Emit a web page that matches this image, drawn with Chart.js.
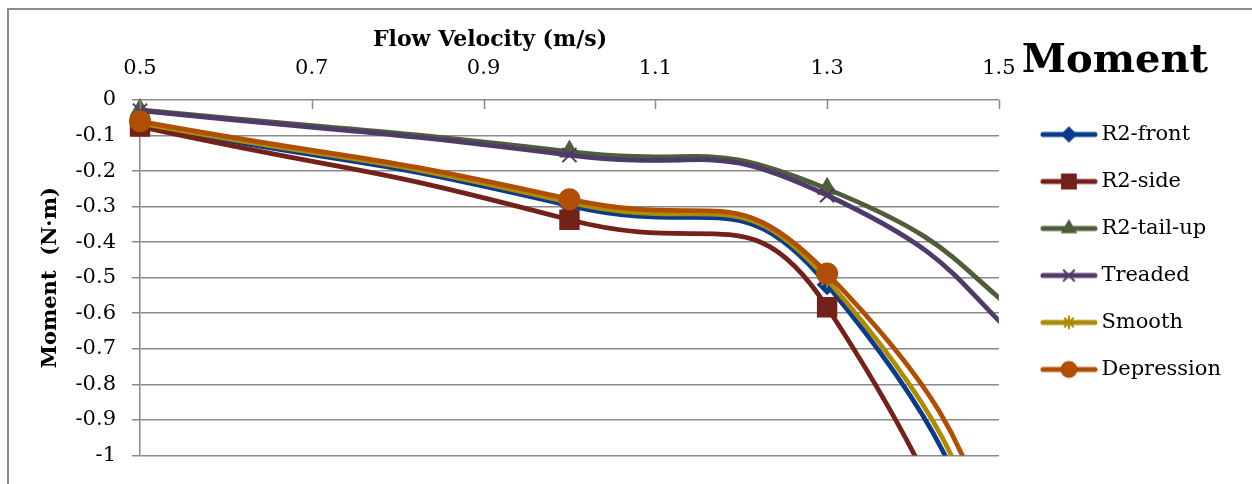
<!DOCTYPE html>
<html>
<head>
<meta charset="utf-8">
<script src="https://cdn.jsdelivr.net/npm/chart.js"></script>
<style>
html, body { margin: 0; padding: 0; background: #fff; }
</style>
</head>
<body>
<canvas id="chart" width="1252" height="484"></canvas>
<script>
// data (last point lies past the plot and is clipped)
var velocity = [0.5, 1.0, 1.3, 1.6];
var r2Front = [-0.07, -0.297, -0.52, -2.05];
var r2Side = [-0.075, -0.337, -0.583, -2.56];
var r2TailUp = [-0.028, -0.145, -0.25, -0.74];
var treaded = [-0.03, -0.155, -0.268, -0.835];
var smooth = [-0.065, -0.288, -0.505, -1.96];
var depression = [-0.06, -0.279, -0.488, -1.78];

var xTicks = [0.5, 0.7, 0.9, 1.1, 1.3, 1.5];
var yTicks = [0, -0.1, -0.2, -0.3, -0.4, -0.5, -0.6, -0.7, -0.8, -0.9, -1];

var serif = 'DejaVu Serif';
var gridColor = '#8a8a8a';

// legend swatch: a short line with the marker on it
function makeSwatch(color, style, radius) {
	var c = document.createElement('canvas');
	c.width = 80;
	c.height = 26;
	var g = c.getContext('2d');
	g.strokeStyle = color;
	g.fillStyle = color;
	g.lineWidth = 5;
	g.lineCap = 'round';
	g.beginPath();
	g.moveTo(25, 13);
	g.lineTo(77, 13);
	g.stroke();
	g.lineWidth = 2;
	Chart.helpers.drawPoint(g, { pointStyle: style, radius: radius, rotation: 0, borderWidth: 2 }, 51, 13);
	return c;
}

function series(label, values, color, style, radius, order) {
	return {
		label: label,
		data: velocity.map(function (v, i) { return { x: v, y: values[i] }; }),
		borderColor: color,
		backgroundColor: color,
		borderWidth: 4.8,
		pointStyle: style,
		pointRadius: radius,
		pointBorderWidth: 2,
		pointBackgroundColor: color,
		pointBorderColor: color,
		tension: 0.55,
		order: order,
		clip: { left: 14, top: 14, right: 0, bottom: 0 },
		swatch: makeSwatch(color, style, radius * 0.75)
	};
}

var datasets = [
	series('R2-front', r2Front, '#0a3c8c', 'rectRot', 9, 5),
	series('R2-side', r2Side, '#74211a', 'rect', 13, 4),
	series('R2-tail-up', r2TailUp, '#4f5d3b', 'triangle', 10, 3),
	series('Treaded', treaded, '#4e3b6a', 'crossRot', 10, 2),
	series('Smooth', smooth, '#ae8b00', 'star', 8, 1),
	series('Depression', depression, '#b04f04', 'circle', 10, 0)
];

// frame, x tick marks and x title
var decor = {
	id: 'decor',
	beforeDraw: function (chart) {
		var ctx = chart.ctx;
		ctx.save();
		ctx.strokeStyle = '#8c8c8c';
		ctx.lineWidth = 2;
		ctx.strokeRect(8, 9, 1400, 600);
		ctx.restore();
	},
	afterDraw: function (chart) {
		var ctx = chart.ctx;
		var xs = chart.scales.x;
		var top = chart.chartArea.top;
		ctx.save();
		ctx.strokeStyle = gridColor;
		ctx.lineWidth = 1.5;
		xTicks.forEach(function (v) {
			var px = Math.round(xs.getPixelForValue(v)) + 0.5;
			ctx.beginPath();
			ctx.moveTo(px, top);
			ctx.lineTo(px, top + 9);
			ctx.stroke();
		});
		ctx.fillStyle = '#000';
		ctx.font = 'bold 22px "' + serif + '"';
		ctx.textAlign = 'center';
		ctx.textBaseline = 'middle';
		ctx.fillText('Flow Velocity (m/s)', 490, 40);
		ctx.restore();
	}
};

var ctx = document.getElementById('chart').getContext('2d');
var momentChart = new Chart(ctx, {
	type: 'line',
	data: { datasets: datasets },
	options: {
		responsive: false,
		animation: false,
		devicePixelRatio: 1,
		layout: { padding: { left: 8, top: 10, right: 21, bottom: 19 } },
		elements: { line: { capBezierPoints: false } },
		scales: {
			x: {
				type: 'linear',
				position: 'top',
				min: 0.5,
				max: 1.5,
				afterBuildTicks: function (s) { s.ticks = xTicks.map(function (v) { return { value: v }; }); },
				afterFit: function (s) { s.height = 90; },
				grid: { drawOnChartArea: false, drawTicks: false },
				border: { display: false },
				ticks: {
					padding: 19,
					color: '#000',
					font: { family: serif, size: 21 },
					callback: function (v) { return v.toFixed(1); }
				}
			},
			y: {
				min: -1,
				max: 0,
				afterBuildTicks: function (s) { s.ticks = yTicks.map(function (v) { return { value: v }; }); },
				afterFit: function (s) { s.width = 132; },
				grid: { color: gridColor, lineWidth: 1.5, tickLength: 8 },
				border: { color: gridColor, width: 1.5 },
				ticks: {
					padding: 16,
					color: '#000',
					font: { family: serif, size: 21 },
					callback: function (v) { return String(Math.round(v * 10) / 10); }
				},
				title: {
					display: true,
					text: 'Moment  (N·m)',
					color: '#000',
					font: { family: serif, size: 21, weight: 'bold' },
					padding: { top: 30, bottom: 0 }
				}
			}
		},
		plugins: {
			tooltip: { enabled: false },
			legend: {
				position: 'right',
				align: 'start',
				title: {
					display: true,
					text: 'Moment',
					color: '#000',
					font: { family: serif, size: 40, weight: 'bold' },
					padding: { top: 32, bottom: 8 }
				},
				labels: {
					usePointStyle: true,
					pointStyleWidth: 66,
					padding: 26,
					color: '#000',
					font: { family: serif, size: 21 },
					generateLabels: function (chart) {
						var items = Chart.defaults.plugins.legend.labels.generateLabels(chart);
						items.forEach(function (it) {
							it.pointStyle = chart.data.datasets[it.datasetIndex].swatch;
							it.rotation = 0;
						});
						return items.sort(function (a, b) { return a.datasetIndex - b.datasetIndex; });
					}
				}
			}
		}
	},
	plugins: [decor]
});
</script>
</body>
</html>
